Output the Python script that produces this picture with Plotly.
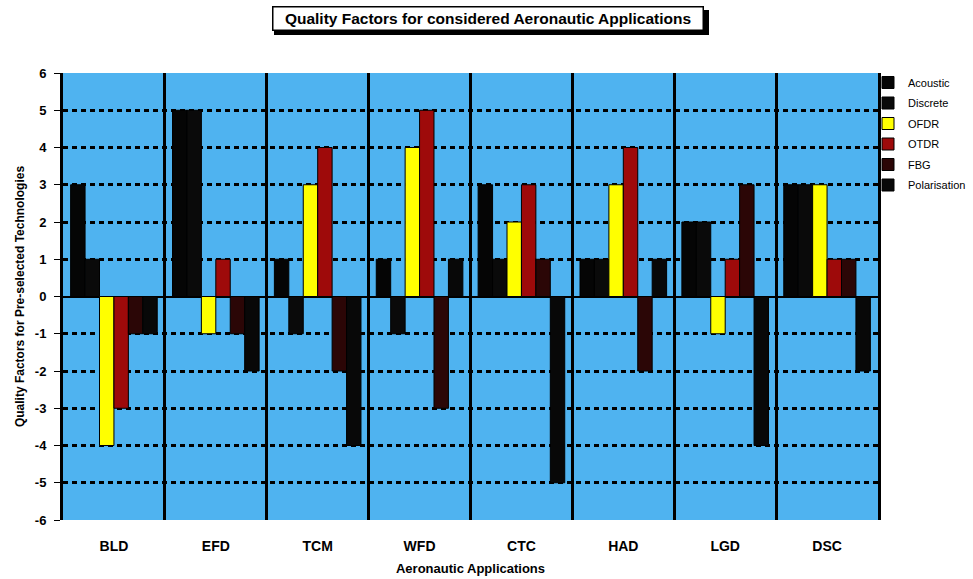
import plotly.graph_objects as go

categories = ["BLD", "EFD", "TCM", "WFD", "CTC", "HAD", "LGD", "DSC"]
acoustic = [3, 5, 1, 1, 3, 1, 2, 3]
discrete = [1, 5, -1, -1, 1, 1, 2, 3]
ofdr = [-4, -1, 3, 4, 2, 3, -1, 3]
otdr = [-3, 1, 4, 5, 3, 4, 1, 1]
fbg = [-1, -1, -2, -3, 1, -2, 3, 1]
polarisation = [-1, -2, -4, 1, -5, 1, -4, -2]
y_ticks = [-6, -5, -4, -3, -2, -1, 0, 1, 2, 3, 4, 5, 6]

series = [
    ("Acoustic", acoustic, "#050505"),
    ("Discrete", discrete, "#0a0a0a"),
    ("OFDR", ofdr, "#ffff00"),
    ("OTDR", otdr, "#9e0a0a"),
    ("FBG", fbg, "#2b0606"),
    ("Polarisation", polarisation, "#080808"),
]

FONT = "Liberation Sans, Arial, sans-serif"

# plot-area geometry in pixels (for paper-coordinate conversions of decorations)
L, R, T, B = 63, 878, 73, 520
W, H = 973, 579


def px_x(p):
    return (p - L) / (R - L)


def px_y(p):
    return (B - p) / (B - T)


fig = go.Figure()
for name, vals, col in series:
    fig.add_trace(go.Bar(
        x=categories, y=vals, name=name, legendgroup=name,
        marker=dict(color=col, line=dict(color="#000000", width=1)),
    ))

fig.update_layout(
    width=W, height=H,
    margin=dict(l=L, r=W - R, t=T, b=H - B, autoexpand=False),
    paper_bgcolor="white",
    plot_bgcolor="#4fb3f0",
    barmode="group", bargap=0.15, bargroupgap=0,
    font=dict(family=FONT, color="black"),
    showlegend=True,
    legend=dict(
        x=px_x(868), y=px_y(68), xanchor="left", yanchor="top",
        font=dict(size=11, family=FONT, color="black"),
        bgcolor="rgba(0,0,0,0)", itemwidth=30, tracegroupgap=1.5,
    ),
)

fig.update_xaxes(
    type="category",
    showgrid=True, tickson="boundaries",
    gridcolor="#000000", gridwidth=3,
    ticks="", showline=False, zeroline=False,
    ticklabelstandoff=16,
    tickfont=dict(size=14, family=FONT, color="black", weight="bold"),
    title=dict(text="<b>Aeronautic Applications</b>", font=dict(size=13, family=FONT), standoff=10),
)

fig.update_yaxes(
    range=[-6, 6],
    tickmode="array", tickvals=y_ticks, ticktext=[str(v) for v in y_ticks],
    showgrid=True, gridcolor="#000000", gridwidth=3, griddash="5px,4px",
    zeroline=True, zerolinecolor="#000000", zerolinewidth=2,
    showline=True, mirror=True, linecolor="#000000", linewidth=3,
    ticks="outside", ticklen=6, tickwidth=1, tickcolor="#000000",
    ticklabelstandoff=5,
    tickfont=dict(size=13, family=FONT, color="black", weight="bold"),
    title=dict(text="<b>Quality Factors for Pre-selected Technologies</b>", font=dict(size=12, family=FONT), standoff=8),
)

# title box shadow
fig.add_shape(
    type="rect", xref="paper", yref="paper", layer="above",
    x0=px_x(274), x1=px_x(709), y0=px_y(35), y1=px_y(10),
    fillcolor="black", line=dict(color="black", width=0),
)
fig.add_annotation(
    text="<b>Quality Factors for considered Aeronautic Applications</b>",
    xref="paper", yref="paper", x=px_x(487.5), y=px_y(18.5),
    xanchor="center", yanchor="middle",
    showarrow=False, font=dict(size=15.5, family=FONT, color="black"),
    width=427, height=20,
    bgcolor="white", bordercolor="black", borderwidth=1.5, borderpad=1,
)

fig.write_html("out.html")
